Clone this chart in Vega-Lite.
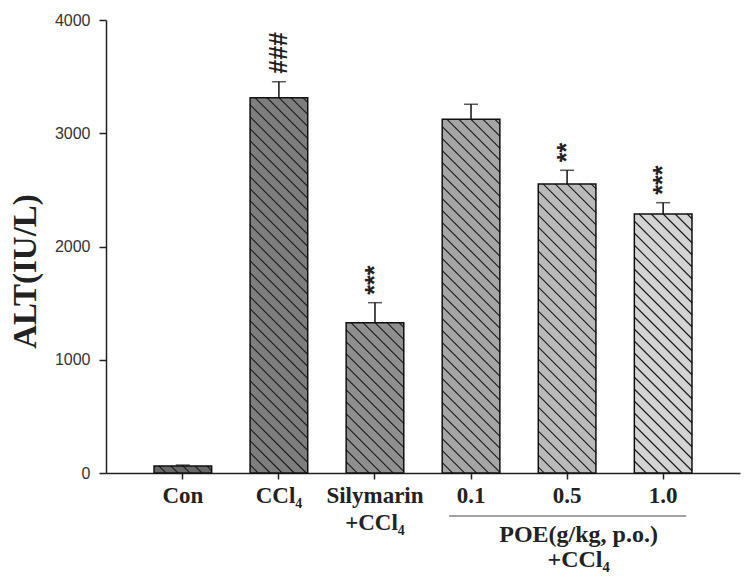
{
  "$schema": "https://vega.github.io/schema/vega-lite/v6.json",
  "autosize": "none",
  "width": 634,
  "height": 453,
  "padding": {"left": 106, "top": 20, "right": 13, "bottom": 107},
  "background": "white",
  "config": {"view": {"stroke": null}},
  "datasets": {
    "groups": [
      {"group": "Con", "label": "Con", "mean": 62, "se": 8, "sig": ""},
      {"group": "CCl4", "label": "CCl₄", "mean": 3314, "se": 141, "sig": "###"},
      {"group": "Silymarin", "label": "Silymarin|+CCl₄", "mean": 1327, "se": 177, "sig": "***"},
      {"group": "POE 0.1", "label": "0.1", "mean": 3123, "se": 133, "sig": ""},
      {"group": "POE 0.5", "label": "0.5", "mean": 2552, "se": 121, "sig": "**"},
      {"group": "POE 1.0", "label": "1.0", "mean": 2287, "se": 100, "sig": "***"}
    ],
    "bracket": [
      {"from": "0.1", "to": "1.0", "mid": "0.5", "text": "POE(g/kg, p.o.)|+CCl₄"}
    ]
  },
  "layer": [
    {
      "data": {"name": "groups"},
      "transform": [{"calculate": "datum.mean + datum.se", "as": "upper"}],
      "layer": [
        {
          "mark": {"type": "rule", "color": "#111", "strokeWidth": 1.5},
          "encoding": {
            "x": {"field": "label", "type": "nominal", "sort": null},
            "y": {"field": "mean", "type": "quantitative"},
            "y2": {"field": "upper"}
          }
        },
        {
          "mark": {"type": "tick", "orient": "horizontal", "color": "#111", "size": 14, "thickness": 1.5},
          "encoding": {
            "x": {"field": "label", "type": "nominal", "sort": null},
            "y": {"field": "upper", "type": "quantitative"}
          }
        },
        {
          "mark": {"type": "bar", "strokeWidth": 0},
          "encoding": {
            "x": {
              "field": "label", "type": "nominal", "sort": null,
              "scale": {"paddingInner": 0.4, "paddingOuter": 0.5},
              "axis": {
                "title": null,
                "labelAngle": 0,
                "labelAlign": "center",
                "labelExpr": "indexof(datum.label, '|') >= 0 ? split(datum.label, '|') : datum.label",
                "labelFont": "Liberation Serif",
                "labelFontWeight": "bold",
                "labelFontSize": 23,
                "labelColor": "#222",
                "labelLineHeight": 27,
                "labelPadding": 5,
                "labelBaseline": "top",
                "labelOverlap": false,
                "labelLimit": 0,
                "domainColor": "#222",
                "domainWidth": 1.5,
                "tickColor": "#222",
                "tickWidth": 1.5,
                "tickSize": 6
              }
            },
            "y": {
              "field": "mean", "type": "quantitative",
              "scale": {"domain": [0, 4000], "nice": false},
              "axis": {
                "title": "ALT(IU/L)",
                "values": [0, 1000, 2000, 3000, 4000],
                "format": "d",
                "grid": false,
                "labelFont": "Liberation Sans",
                "labelFontSize": 16,
                "labelColor": "#333",
                "labelPadding": 9,
                "tickSize": 7,
                "tickColor": "#222",
                "tickWidth": 1.5,
                "domainColor": "#222",
                "domainWidth": 1.5,
                "titleFont": "Liberation Serif",
                "titleFontWeight": "bold",
                "titleFontSize": 33,
                "titleColor": "#222",
                "titleAngle": 270,
                "titleAlign": "center",
                "titleBaseline": "middle",
                "titleX": -81,
                "titleY": 251
              }
            },
            "fill": {
              "field": "label", "type": "nominal", "sort": null,
              "scale": {"range": ["#686868", "#7e7e7e", "#8f8f8f", "#a5a5a5", "#bababa", "#d4d4d4"]},
              "legend": null
            }
          }
        },
        {
          "mark": {"type": "point", "filled": false, "size": 4, "stroke": "#1a1a1a", "strokeWidth": 1.1, "opacity": 1},
          "encoding": {
            "x": {"field": "label", "type": "nominal", "sort": null},
            "y": {"field": "mean", "type": "quantitative"},
            "shape": {
              "field": "label", "type": "nominal", "sort": null,
              "scale": {
                "domain": ["Con", "CCl₄", "Silymarin|+CCl₄", "0.1", "0.5", "1.0"],
                "range": [
                  "M24 0l5 5M12 0l7 7M0 0l7 7M-12 0l7 7M-24 0l7 7",
                  "M24 0l5 5M12 0l17 17M0 0l29 29M-12 0l41 41M-24 0l53 53M-29 7l58 58M-29 19l58 58M-29 31l58 58M-29 43l58 58M-29 55l58 58M-29 67l58 58M-29 79l58 58M-29 91l58 58M-29 103l58 58M-29 115l58 58M-29 127l58 58M-29 139l58 58M-29 151l58 58M-29 163l58 58M-29 175l58 58M-29 187l58 58M-29 199l58 58M-29 211l58 58M-29 223l58 58M-29 235l58 58M-29 247l58 58M-29 259l58 58M-29 271l58 58M-29 283l58 58M-29 295l58 58M-29 307l58 58M-29 319l56.3 56.3M-29 331l44.3 44.3M-29 343l32.3 32.3M-29 355l20.3 20.3M-29 367l8.3 8.3",
                  "M24 0l5 5M12 0l17 17M0 0l29 29M-12 0l41 41M-24 0l53 53M-29 7l58 58M-29 19l58 58M-29 31l58 58M-29 43l58 58M-29 55l58 58M-29 67l58 58M-29 79l58 58M-29 91l58 58M-29 103l47.3 47.3M-29 115l35.3 35.3M-29 127l23.3 23.3M-29 139l11.3 11.3",
                  "M24 0l5 5M12 0l17 17M0 0l29 29M-12 0l41 41M-24 0l53 53M-29 7l58 58M-29 19l58 58M-29 31l58 58M-29 43l58 58M-29 55l58 58M-29 67l58 58M-29 79l58 58M-29 91l58 58M-29 103l58 58M-29 115l58 58M-29 127l58 58M-29 139l58 58M-29 151l58 58M-29 163l58 58M-29 175l58 58M-29 187l58 58M-29 199l58 58M-29 211l58 58M-29 223l58 58M-29 235l58 58M-29 247l58 58M-29 259l58 58M-29 271l58 58M-29 283l58 58M-29 295l58 58M-29 307l46.7 46.7M-29 319l34.7 34.7M-29 331l22.7 22.7M-29 343l10.7 10.7",
                  "M24 0l5 5M12 0l17 17M0 0l29 29M-12 0l41 41M-24 0l53 53M-29 7l58 58M-29 19l58 58M-29 31l58 58M-29 43l58 58M-29 55l58 58M-29 67l58 58M-29 79l58 58M-29 91l58 58M-29 103l58 58M-29 115l58 58M-29 127l58 58M-29 139l58 58M-29 151l58 58M-29 163l58 58M-29 175l58 58M-29 187l58 58M-29 199l58 58M-29 211l58 58M-29 223l58 58M-29 235l54 54M-29 247l42 42M-29 259l30 30M-29 271l18 18M-29 283l6 6",
                  "M24 0l5 5M12 0l17 17M0 0l29 29M-12 0l41 41M-24 0l53 53M-29 7l58 58M-29 19l58 58M-29 31l58 58M-29 43l58 58M-29 55l58 58M-29 67l58 58M-29 79l58 58M-29 91l58 58M-29 103l58 58M-29 115l58 58M-29 127l58 58M-29 139l58 58M-29 151l58 58M-29 163l58 58M-29 175l58 58M-29 187l58 58M-29 199l58 58M-29 211l48 48M-29 223l36 36M-29 235l24 24M-29 247l12 12"
                ]
              },
              "legend": null
            }
          }
        },
        {
          "mark": {"type": "bar", "fill": null, "fillOpacity": 0, "stroke": "#111", "strokeWidth": 1.5},
          "encoding": {
            "x": {"field": "label", "type": "nominal", "sort": null},
            "y": {"field": "mean", "type": "quantitative"}
          }
        },
        {
          "mark": {"type": "text", "angle": 270, "align": "left", "baseline": "middle", "font": "Liberation Sans", "fontSize": 25, "fontWeight": "bold", "color": "#222", "yOffset": -8},
          "encoding": {
            "x": {"field": "label", "type": "nominal", "sort": null},
            "y": {"field": "upper", "type": "quantitative"},
            "text": {"field": "sig"}
          }
        }
      ]
    },
    {
      "data": {"name": "bracket"},
      "layer": [
        {
          "mark": {"type": "rule", "color": "#444", "strokeWidth": 1.2, "yOffset": 43},
          "encoding": {
            "x": {"field": "from", "type": "nominal", "sort": null, "bandPosition": 0.12},
            "x2": {"field": "to", "bandPosition": 0.9},
            "y": {"value": "height"}
          }
        },
        {
          "mark": {"type": "text", "font": "Liberation Serif", "fontWeight": "bold", "fontSize": 24, "color": "#222", "align": "center", "baseline": "alphabetic", "lineBreak": "|", "lineHeight": 25, "yOffset": 69},
          "encoding": {
            "x": {"field": "mid", "type": "nominal", "sort": null, "bandPosition": 0.7},
            "y": {"value": "height"},
            "text": {"field": "text"}
          }
        }
      ]
    }
  ]
}
